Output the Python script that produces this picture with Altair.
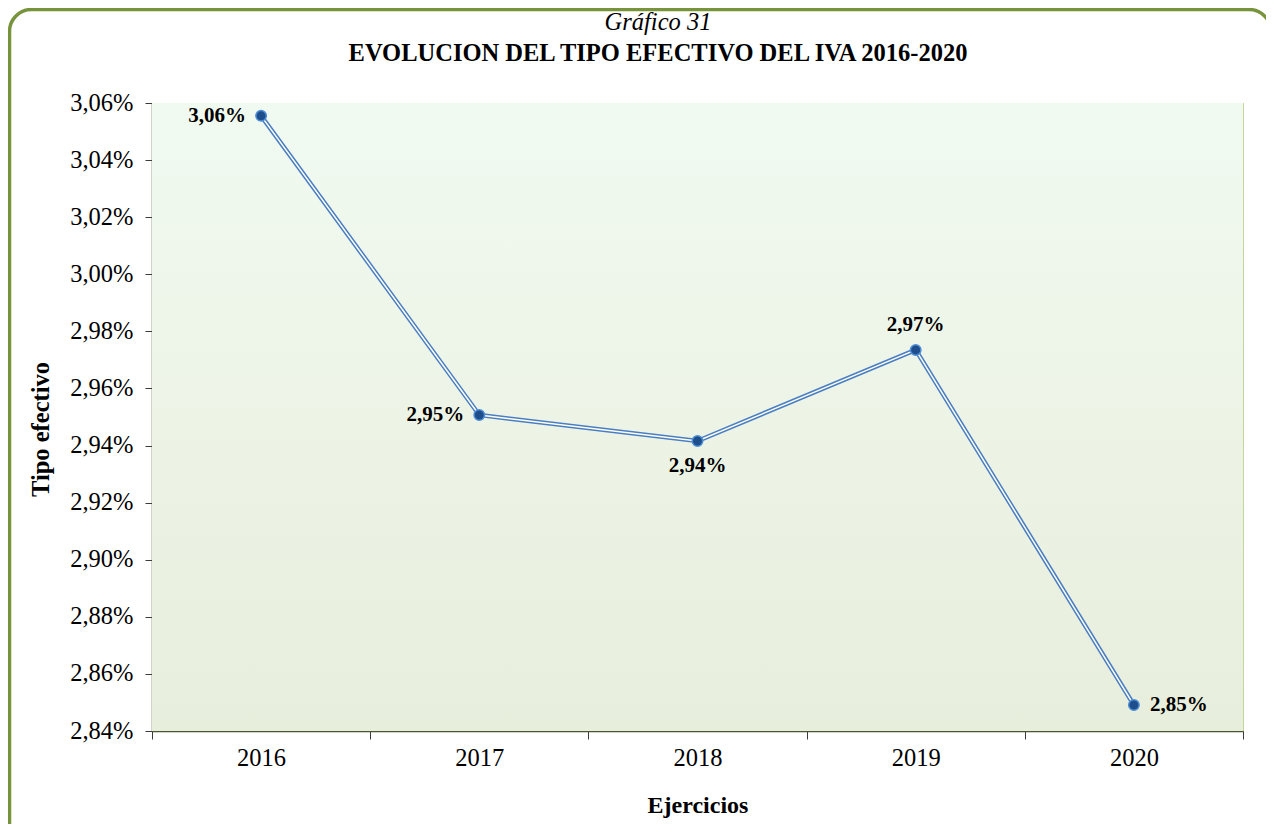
import altair as alt
import pandas as pd

years = ["2016", "2017", "2018", "2019", "2020"]
tipo = [0.030555, 0.029507, 0.029416, 0.029735, 0.028491]
label_pos = ["left", "left", "below", "above", "right"]
y_ticks = [0.0284, 0.0286, 0.0288, 0.0290, 0.0292, 0.0294, 0.0296, 0.0298, 0.0300, 0.0302, 0.0304, 0.0306]
title_top = "Gráfico 31"
title_main = "EVOLUCION DEL TIPO EFECTIVO DEL IVA 2016-2020"

df = pd.DataFrame({"year": years, "tipo": tipo, "pos": label_pos})

W, H = 1091, 628
FONT = "Liberation Serif"

x_enc = alt.X("year:N", scale=alt.Scale(type="band", paddingInner=0, paddingOuter=0),
              bandPosition=0.5,
              axis=alt.Axis(title="Ejercicios", tickBand="extent", labelAngle=0,
                            labelFontSize=24.5, labelFont=FONT, labelColor="#000000",
                            labelPadding=7, tickSize=8, tickColor="#3a3a3a",
                            domainColor="#4A5530", domainWidth=1.5,
                            titleFont=FONT, titleFontSize=24, titleFontWeight="bold",
                            titleColor="#000000", titlePadding=24, grid=False))
y_enc = alt.Y("tipo:Q", scale=alt.Scale(domain=[0.0284, 0.0306], nice=False, zero=False),
              axis=alt.Axis(title="Tipo efectivo", values=y_ticks, format=".2%",
                            labelFontSize=24.5, labelFont=FONT, labelColor="#000000",
                            labelPadding=12, tickSize=7, tickColor="#3a3a3a",
                            domainColor="#4A5530", domainWidth=1.5,
                            gridColor="#C4D79B", gridWidth=1,
                            titleFont=FONT, titleFontSize=24.5, titleFontWeight="bold",
                            titleColor="#000000", titlePadding=16, titleY=326))

base = alt.Chart(df)
single = alt.Chart(pd.DataFrame({"t1": [title_top], "t2": [title_main]}))

frame = single.mark_rect(filled=False, stroke="#77933C", strokeWidth=3.5, cornerRadius=22).encode(
    x=alt.value(-142.5), x2=alt.value(1119), y=alt.value(-93.5), y2=alt.value(760))

bg = single.mark_rect(fill=alt.LinearGradient(
    gradient="linear", x1=0, x2=0, y1=0, y2=1,
    stops=[alt.GradientStop(color="#F1FAF1", offset=0),
           alt.GradientStop(color="#E8EEDC", offset=1)])).encode(
    x=alt.value(0), x2=alt.value(W), y=alt.value(0), y2=alt.value(H))

t1 = single.mark_text(font=FONT, fontSize=24.5, fontStyle="italic", color="#000000",
                      align="center", baseline="alphabetic").encode(
    x=alt.value(506), y=alt.value(-73), text="t1:N")
t2 = single.mark_text(font=FONT, fontSize=24.5, fontWeight="bold", color="#000000",
                      align="center", baseline="alphabetic").encode(
    x=alt.value(506), y=alt.value(-42), text="t2:N")

line_outer = base.mark_line(color="#4A7EC0", strokeWidth=4.5).encode(x=x_enc, y=y_enc)
line_inner = base.mark_line(color="#FFFFFF", strokeWidth=1.5).encode(x=x_enc, y=y_enc)
points = base.mark_point(filled=True, fill="#1F4E8C", stroke="#4F8FD6", strokeWidth=1.5,
                         size=110, opacity=1).encode(x=x_enc, y=y_enc)

def lbl(pos, **kw):
    return base.transform_filter(alt.datum.pos == pos).mark_text(
        font=FONT, fontSize=21, fontWeight="bold", color="#000000", **kw).encode(
        x=x_enc, y=y_enc, text=alt.Text("tipo:Q", format=".2%"))

labels = (lbl("left", align="right", baseline="middle", dx=-15)
          + lbl("below", align="center", baseline="middle", dy=25)
          + lbl("above", align="center", baseline="middle", dy=-25)
          + lbl("right", align="left", baseline="middle", dx=16))

chart = alt.layer(frame, bg, t1, t2, line_outer, line_inner, points, labels).properties(
    width=W, height=H,
    autosize=alt.AutoSizeParams(type="none"),
    padding={"left": 144, "top": 95, "right": 23, "bottom": 93},
).configure(
    locale={"number": {"decimal": ",", "thousands": ".", "grouping": [3], "currency": ["", " €"]}}
).configure_view(stroke="#C4D79B", strokeWidth=1)

chart.save("out.html", embed_options={"renderer": "svg", "actions": False})
